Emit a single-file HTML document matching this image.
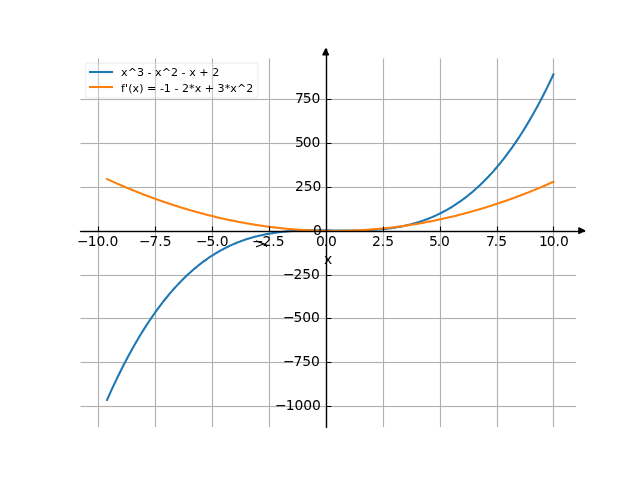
<!DOCTYPE html>
<html><head><meta charset="utf-8"><title>plot</title>
<style>html,body{margin:0;padding:0;background:#fff;overflow:hidden}svg{display:block}text{font-family:'DejaVu Sans',sans-serif;fill:#000}</style>
</head><body>
<svg width="640" height="480" viewBox="0 0 640 480" version="1.1">
<defs><clipPath id="ax"><rect x="80" y="57.6" width="496" height="369.6"/></clipPath></defs>
<rect width="640" height="480" fill="#fff"/>
<path d="M97 58.5H98V427H97ZM99 58.5H100V427H99ZM154 58.5H155V427H154ZM156 58.5H157V427H156ZM211 58.5H212V427H211ZM213 58.5H214V427H213ZM268 58.5H269V427H268ZM270 58.5H271V427H270ZM325 58.5H326V427H325ZM327 58.5H328V427H327ZM382 58.5H383V427H382ZM384 58.5H385V427H384ZM439 58.5H440V427H439ZM441 58.5H442V427H441ZM496 58.5H497V427H496ZM498 58.5H499V427H498ZM552 58.5H553V427H552ZM554 58.5H555V427H554ZM80.5 98H576V99H80.5ZM80.5 100H576V101H80.5ZM80.5 142H576V143H80.5ZM80.5 144H576V145H80.5ZM80.5 186H576V187H80.5ZM80.5 188H576V189H80.5ZM80.5 230H576V231H80.5ZM80.5 232H576V233H80.5ZM80.5 274H576V275H80.5ZM80.5 276H576V277H80.5ZM80.5 317H576V318H80.5ZM80.5 319H576V320H80.5ZM80.5 361H576V362H80.5ZM80.5 363H576V364H80.5ZM80.5 405H576V406H80.5ZM80.5 407H576V408H80.5Z" fill="#b0b0b0" fill-opacity="0.063"/>
<path d="M98 58.5H99V427H98ZM155 58.5H156V427H155ZM212 58.5H213V427H212ZM269 58.5H270V427H269ZM326 58.5H327V427H326ZM383 58.5H384V427H383ZM440 58.5H441V427H440ZM497 58.5H498V427H497ZM553 58.5H554V427H553ZM80.5 99H576V100H80.5ZM80.5 143H576V144H80.5ZM80.5 187H576V188H80.5ZM80.5 231H576V232H80.5ZM80.5 275H576V276H80.5ZM80.5 318H576V319H80.5ZM80.5 362H576V363H80.5ZM80.5 406H576V407H80.5Z" fill="#b0b0b0"/>
<g clip-path="url(#ax)" fill="none" stroke-width="2.0833" stroke-linecap="square" stroke-linejoin="round">
<polyline points="107.09,399.86 108.20,397.34 109.32,394.84 110.44,392.37 111.56,389.92 112.68,387.49 113.80,385.09 114.92,382.72 116.03,380.37 117.15,378.04 118.27,375.74 119.39,373.46 120.51,371.20 121.63,368.97 122.75,366.76 123.87,364.58 124.98,362.42 126.10,360.28 127.22,358.17 128.34,356.07 129.46,354.01 130.58,351.96 131.70,349.94 132.81,347.93 133.93,345.96 135.05,344.00 136.17,342.07 137.29,340.15 138.41,338.26 139.53,336.39 140.65,334.55 141.76,332.72 142.88,330.92 144.00,329.13 145.12,327.37 146.24,325.63 147.36,323.91 148.48,322.21 149.60,320.53 150.71,318.87 151.83,317.23 152.95,315.61 154.07,314.02 155.19,312.44 156.31,310.88 157.43,309.34 158.54,307.82 159.66,306.32 160.78,304.84 161.90,303.38 163.02,301.94 164.14,300.52 165.26,299.11 166.38,297.73 167.49,296.36 168.61,295.01 169.73,293.68 170.85,292.37 171.97,291.08 173.09,289.80 174.21,288.54 175.32,287.30 176.44,286.08 177.56,284.88 178.68,283.69 179.80,282.52 180.92,281.37 182.04,280.23 183.16,279.11 184.27,278.01 185.39,276.92 186.51,275.85 187.63,274.80 188.75,273.76 189.87,272.74 190.99,271.74 192.10,270.75 193.22,269.77 194.34,268.82 195.46,267.87 196.58,266.95 197.70,266.04 198.82,265.14 199.94,264.26 201.05,263.39 202.17,262.54 203.29,261.70 204.41,260.88 205.53,260.07 206.65,259.28 207.77,258.50 208.89,257.73 210.00,256.98 211.12,256.24 212.24,255.51 213.36,254.80 214.48,254.10 215.60,253.42 216.72,252.75 217.83,252.09 218.95,251.44 220.07,250.81 221.19,250.19 222.31,249.58 223.43,248.98 224.55,248.40 225.67,247.83 226.78,247.27 227.90,246.72 229.02,246.19 230.14,245.66 231.26,245.15 232.38,244.65 233.50,244.16 234.61,243.68 235.73,243.21 236.85,242.75 237.97,242.31 239.09,241.87 240.21,241.45 241.33,241.03 242.45,240.63 243.56,240.23 244.68,239.85 245.80,239.47 246.92,239.11 248.04,238.75 249.16,238.41 250.28,238.07 251.40,237.74 252.51,237.43 253.63,237.12 254.75,236.82 255.87,236.53 256.99,236.24 258.11,235.97 259.23,235.70 260.34,235.45 261.46,235.20 262.58,234.95 263.70,234.72 264.82,234.49 265.94,234.28 267.06,234.07 268.18,233.86 269.29,233.67 270.41,233.48 271.53,233.30 272.65,233.12 273.77,232.95 274.89,232.79 276.01,232.64 277.12,232.49 278.24,232.34 279.36,232.21 280.48,232.08 281.60,231.95 282.72,231.83 283.84,231.72 284.96,231.61 286.07,231.51 287.19,231.41 288.31,231.32 289.43,231.24 290.55,231.15 291.67,231.08 292.79,231.00 293.91,230.94 295.02,230.87 296.14,230.81 297.26,230.76 298.38,230.71 299.50,230.66 300.62,230.62 301.74,230.58 302.85,230.54 303.97,230.51 305.09,230.48 306.21,230.45 307.33,230.43 308.45,230.41 309.57,230.39 310.69,230.37 311.80,230.36 312.92,230.35 314.04,230.34 315.16,230.34 316.28,230.33 317.40,230.33 318.52,230.33 319.63,230.33 320.75,230.33 321.87,230.34 322.99,230.34 324.11,230.35 325.23,230.36 326.35,230.37 327.47,230.38 328.58,230.39 329.70,230.40 330.82,230.41 331.94,230.42 333.06,230.43 334.18,230.44 335.30,230.45 336.42,230.46 337.53,230.48 338.65,230.49 339.77,230.50 340.89,230.50 342.01,230.51 343.13,230.52 344.25,230.53 345.36,230.53 346.48,230.53 347.60,230.54 348.72,230.54 349.84,230.54 350.96,230.53 352.08,230.53 353.20,230.52 354.31,230.51 355.43,230.50 356.55,230.48 357.67,230.47 358.79,230.45 359.91,230.43 361.03,230.40 362.14,230.37 363.26,230.34 364.38,230.31 365.50,230.27 366.62,230.23 367.74,230.18 368.86,230.13 369.98,230.08 371.09,230.02 372.21,229.96 373.33,229.89 374.45,229.82 375.57,229.75 376.69,229.67 377.81,229.58 378.92,229.49 380.04,229.40 381.16,229.30 382.28,229.19 383.40,229.08 384.52,228.96 385.64,228.84 386.76,228.71 387.87,228.58 388.99,228.44 390.11,228.30 391.23,228.14 392.35,227.98 393.47,227.82 394.59,227.65 395.71,227.47 396.82,227.28 397.94,227.09 399.06,226.89 400.18,226.68 401.30,226.47 402.42,226.24 403.54,226.01 404.65,225.77 405.77,225.53 406.89,225.27 408.01,225.01 409.13,224.74 410.25,224.46 411.37,224.17 412.49,223.88 413.60,223.57 414.72,223.26 415.84,222.94 416.96,222.60 418.08,222.26 419.20,221.91 420.32,221.55 421.43,221.18 422.55,220.80 423.67,220.41 424.79,220.01 425.91,219.60 427.03,219.18 428.15,218.75 429.27,218.30 430.38,217.85 431.50,217.39 432.62,216.91 433.74,216.43 434.86,215.93 435.98,215.42 437.10,214.91 438.22,214.37 439.33,213.83 440.45,213.28 441.57,212.71 442.69,212.13 443.81,211.54 444.93,210.94 446.05,210.32 447.16,209.70 448.28,209.06 449.40,208.40 450.52,207.74 451.64,207.06 452.76,206.37 453.88,205.66 455.00,204.94 456.11,204.21 457.23,203.46 458.35,202.70 459.47,201.93 460.59,201.14 461.71,200.34 462.83,199.52 463.94,198.69 465.06,197.84 466.18,196.98 467.30,196.11 468.42,195.22 469.54,194.31 470.66,193.39 471.78,192.46 472.89,191.50 474.01,190.54 475.13,189.56 476.25,188.56 477.37,187.54 478.49,186.51 479.61,185.47 480.73,184.40 481.84,183.33 482.96,182.23 484.08,181.12 485.20,179.99 486.32,178.84 487.44,177.68 488.56,176.50 489.67,175.30 490.79,174.09 491.91,172.85 493.03,171.60 494.15,170.34 495.27,169.05 496.39,167.75 497.51,166.43 498.62,165.08 499.74,163.73 500.86,162.35 501.98,160.95 503.10,159.54 504.22,158.10 505.34,156.65 506.45,155.18 507.57,153.69 508.69,152.18 509.81,150.65 510.93,149.10 512.05,147.53 513.17,145.94 514.29,144.33 515.40,142.70 516.52,141.05 517.64,139.38 518.76,137.69 519.88,135.98 521.00,134.25 522.12,132.49 523.24,130.72 524.35,128.92 525.47,127.11 526.59,125.27 527.71,123.41 528.83,121.53 529.95,119.62 531.07,117.70 532.18,115.75 533.30,113.78 534.42,111.79 535.54,109.78 536.66,107.74 537.78,105.68 538.90,103.60 540.02,101.49 541.13,99.37 542.25,97.22 543.37,95.04 544.49,92.84 545.61,90.62 546.73,88.38 547.85,86.11 548.96,83.82 550.08,81.50 551.20,79.16 552.32,76.79 553.44,74.40" stroke="#1f77b4"/>
<polyline points="107.09,179.07 108.20,179.59 109.32,180.10 110.44,180.60 111.56,181.11 112.68,181.61 113.80,182.11 114.92,182.60 116.03,183.10 117.15,183.59 118.27,184.08 119.39,184.56 120.51,185.05 121.63,185.53 122.75,186.01 123.87,186.48 124.98,186.96 126.10,187.43 127.22,187.90 128.34,188.36 129.46,188.83 130.58,189.29 131.70,189.75 132.81,190.20 133.93,190.66 135.05,191.11 136.17,191.56 137.29,192.00 138.41,192.44 139.53,192.89 140.65,193.32 141.76,193.76 142.88,194.19 144.00,194.62 145.12,195.05 146.24,195.48 147.36,195.90 148.48,196.32 149.60,196.74 150.71,197.15 151.83,197.57 152.95,197.98 154.07,198.38 155.19,198.79 156.31,199.19 157.43,199.59 158.54,199.99 159.66,200.38 160.78,200.78 161.90,201.17 163.02,201.55 164.14,201.94 165.26,202.32 166.38,202.70 167.49,203.08 168.61,203.45 169.73,203.83 170.85,204.20 171.97,204.56 173.09,204.93 174.21,205.29 175.32,205.65 176.44,206.01 177.56,206.36 178.68,206.71 179.80,207.06 180.92,207.41 182.04,207.75 183.16,208.09 184.27,208.43 185.39,208.77 186.51,209.11 187.63,209.44 188.75,209.77 189.87,210.09 190.99,210.42 192.10,210.74 193.22,211.06 194.34,211.37 195.46,211.69 196.58,212.00 197.70,212.31 198.82,212.61 199.94,212.92 201.05,213.22 202.17,213.52 203.29,213.81 204.41,214.11 205.53,214.40 206.65,214.69 207.77,214.97 208.89,215.26 210.00,215.54 211.12,215.81 212.24,216.09 213.36,216.36 214.48,216.63 215.60,216.90 216.72,217.17 217.83,217.43 218.95,217.69 220.07,217.95 221.19,218.21 222.31,218.46 223.43,218.71 224.55,218.96 225.67,219.20 226.78,219.45 227.90,219.69 229.02,219.92 230.14,220.16 231.26,220.39 232.38,220.62 233.50,220.85 234.61,221.07 235.73,221.30 236.85,221.52 237.97,221.73 239.09,221.95 240.21,222.16 241.33,222.37 242.45,222.58 243.56,222.78 244.68,222.99 245.80,223.19 246.92,223.38 248.04,223.58 249.16,223.77 250.28,223.96 251.40,224.15 252.51,224.33 253.63,224.51 254.75,224.69 255.87,224.87 256.99,225.04 258.11,225.21 259.23,225.38 260.34,225.55 261.46,225.71 262.58,225.88 263.70,226.04 264.82,226.19 265.94,226.35 267.06,226.50 268.18,226.65 269.29,226.79 270.41,226.94 271.53,227.08 272.65,227.22 273.77,227.35 274.89,227.49 276.01,227.62 277.12,227.75 278.24,227.87 279.36,228.00 280.48,228.12 281.60,228.24 282.72,228.35 283.84,228.47 284.96,228.58 286.07,228.69 287.19,228.79 288.31,228.89 289.43,228.99 290.55,229.09 291.67,229.19 292.79,229.28 293.91,229.37 295.02,229.46 296.14,229.55 297.26,229.63 298.38,229.71 299.50,229.79 300.62,229.86 301.74,229.94 302.85,230.01 303.97,230.07 305.09,230.14 306.21,230.20 307.33,230.26 308.45,230.32 309.57,230.37 310.69,230.43 311.80,230.48 312.92,230.52 314.04,230.57 315.16,230.61 316.28,230.65 317.40,230.69 318.52,230.72 319.63,230.76 320.75,230.79 321.87,230.81 322.99,230.84 324.11,230.86 325.23,230.88 326.35,230.90 327.47,230.91 328.58,230.92 329.70,230.93 330.82,230.94 331.94,230.94 333.06,230.95 334.18,230.94 335.30,230.94 336.42,230.94 337.53,230.93 338.65,230.92 339.77,230.90 340.89,230.89 342.01,230.87 343.13,230.85 344.25,230.82 345.36,230.80 346.48,230.77 347.60,230.74 348.72,230.70 349.84,230.67 350.96,230.63 352.08,230.59 353.20,230.54 354.31,230.50 355.43,230.45 356.55,230.40 357.67,230.34 358.79,230.29 359.91,230.23 361.03,230.17 362.14,230.10 363.26,230.04 364.38,229.97 365.50,229.89 366.62,229.82 367.74,229.74 368.86,229.66 369.98,229.58 371.09,229.50 372.21,229.41 373.33,229.32 374.45,229.23 375.57,229.13 376.69,229.04 377.81,228.94 378.92,228.84 380.04,228.73 381.16,228.62 382.28,228.51 383.40,228.40 384.52,228.29 385.64,228.17 386.76,228.05 387.87,227.93 388.99,227.80 390.11,227.67 391.23,227.54 392.35,227.41 393.47,227.28 394.59,227.14 395.71,227.00 396.82,226.86 397.94,226.71 399.06,226.56 400.18,226.41 401.30,226.26 402.42,226.10 403.54,225.95 404.65,225.78 405.77,225.62 406.89,225.46 408.01,225.29 409.13,225.12 410.25,224.94 411.37,224.77 412.49,224.59 413.60,224.41 414.72,224.23 415.84,224.04 416.96,223.85 418.08,223.66 419.20,223.47 420.32,223.27 421.43,223.07 422.55,222.87 423.67,222.67 424.79,222.46 425.91,222.25 427.03,222.04 428.15,221.83 429.27,221.61 430.38,221.39 431.50,221.17 432.62,220.95 433.74,220.72 434.86,220.49 435.98,220.26 437.10,220.02 438.22,219.79 439.33,219.55 440.45,219.31 441.57,219.06 442.69,218.82 443.81,218.57 444.93,218.31 446.05,218.06 447.16,217.80 448.28,217.54 449.40,217.28 450.52,217.02 451.64,216.75 452.76,216.48 453.88,216.21 455.00,215.93 456.11,215.66 457.23,215.38 458.35,215.09 459.47,214.81 460.59,214.52 461.71,214.23 462.83,213.94 463.94,213.64 465.06,213.35 466.18,213.05 467.30,212.74 468.42,212.44 469.54,212.13 470.66,211.82 471.78,211.51 472.89,211.19 474.01,210.87 475.13,210.55 476.25,210.23 477.37,209.91 478.49,209.58 479.61,209.25 480.73,208.91 481.84,208.58 482.96,208.24 484.08,207.90 485.20,207.56 486.32,207.21 487.44,206.86 488.56,206.51 489.67,206.16 490.79,205.80 491.91,205.44 493.03,205.08 494.15,204.72 495.27,204.35 496.39,203.98 497.51,203.61 498.62,203.24 499.74,202.86 500.86,202.49 501.98,202.10 503.10,201.72 504.22,201.33 505.34,200.94 506.45,200.55 507.57,200.16 508.69,199.76 509.81,199.36 510.93,198.96 512.05,198.56 513.17,198.15 514.29,197.74 515.40,197.33 516.52,196.92 517.64,196.50 518.76,196.08 519.88,195.66 521.00,195.23 522.12,194.81 523.24,194.38 524.35,193.95 525.47,193.51 526.59,193.07 527.71,192.63 528.83,192.19 529.95,191.75 531.07,191.30 532.18,190.85 533.30,190.40 534.42,189.94 535.54,189.49 536.66,189.03 537.78,188.56 538.90,188.10 540.02,187.63 541.13,187.16 542.25,186.69 543.37,186.21 544.49,185.74 545.61,185.25 546.73,184.77 547.85,184.29 548.96,183.80 550.08,183.31 551.20,182.82 552.32,182.32 553.44,181.82" stroke="#ff7f0e"/>
</g>
<path d="M98.5 231.5V226.5M155.5 231.5V226.5M212.5 231.5V226.5M269.5 231.5V226.5M383.5 231.5V226.5M440.5 231.5V226.5M497.5 231.5V226.5M553.5 231.5V226.5M326.5 99.5H331.5M326.5 143.5H331.5M326.5 187.5H331.5M326.5 275.5H331.5M326.5 318.5H331.5M326.5 362.5H331.5M326.5 406.5H331.5" fill="none" stroke="#000" stroke-width="1.1111"/>
<path d="M326.5 427.5V49.15" fill="none" stroke="#000" stroke-width="1.3889" stroke-linecap="round"/>
<path d="M79.92 231H585.08V232H79.92Z" fill="#000"/>
<path d="M80.5 230H584.5V231H80.5ZM80.5 232H584.5V233H80.5Z" fill="#000" fill-opacity="0.196"/>
<path d="M578.891 227.934L584.447 230.712L578.891 233.490ZM322.930 54.709L325.708 49.153L328.485 54.709Z" fill="#000" stroke="#000" stroke-width="1.3889" stroke-linejoin="round" stroke-linecap="round"/>
<path d="M87.7778 97.6000L255.7084 97.6000Q257.9306 97.6000 257.9306 95.3778L257.9306 65.3778Q257.9306 63.1556 255.7084 63.1556L87.7778 63.1556Q85.5556 63.1556 85.5556 65.3778L85.5556 95.3778Q85.5556 97.6000 87.7778 97.6000Z" fill="#fff" stroke="#ccc" stroke-width="1.3889" stroke-linejoin="miter" fill-opacity="0.3" stroke-opacity="0.3"/>
<path d="M88.96 72H113.04" stroke="#1f77b4" stroke-width="2.0833"/>
<path d="M88.96 87H113.04" stroke="#ff7f0e" stroke-width="2.0833"/>
<text x="76.880 87.705 96.380 105.130 109.505" y="246.000" font-size="13.8889">−10.0</text>
<text x="138.971 149.596 158.346 162.721" y="246.000" font-size="13.8889">−7.5</text>
<text x="195.923 206.548 215.298 219.673" y="246.000" font-size="13.8889">−5.0</text>
<text x="251.886 262.411 271.161 275.636" y="246.000" font-size="13.8889">−2.5</text>
<text x="315.892 323.642 327.917" y="246.000" font-size="13.8889">0.0</text>
<text x="372.025 380.775 385.150" y="246.000" font-size="13.8889">2.5</text>
<text x="428.928 436.678 441.053" y="246.000" font-size="13.8889">5.0</text>
<text x="485.881 493.631 498.306" y="246.000" font-size="13.8889">7.5</text>
<text x="538.876 546.751 555.501 559.876" y="246.000" font-size="13.8889">10.0</text>
<text x="328.080" y="264.000" font-size="13.8889" text-anchor="middle">x</text>
<text x="274.945 285.670 294.545 303.295 312.045" y="410.000" font-size="13.8889">−1000</text>
<text x="282.920 293.545 302.295 311.045" y="366.000" font-size="13.8889">−750</text>
<text x="282.900 293.525 302.275 311.025" y="322.000" font-size="13.8889">−500</text>
<text x="282.920 293.545 302.295 311.045" y="279.000" font-size="13.8889">−250</text>
<text x="321.712" y="235.000" font-size="13.8889" text-anchor="end">0</text>
<text x="294.875 303.625 312.375" y="191.000" font-size="13.8889">250</text>
<text x="294.935 302.685 311.435" y="147.000" font-size="13.8889">500</text>
<text x="294.965 302.715 311.465" y="103.000" font-size="13.8889">750</text>
<text x="263.543" y="243.900" font-size="13.8889" text-anchor="middle" transform="rotate(-90 263.543 243.900)">y</text>
<text x="121.001 127.626 137.001 144.001 147.501 151.501 155.001 161.626 171.001 178.126 181.426 185.626 189.126 195.751 199.251 208.626 212.126" y="76.000" font-size="11.1111">x^3 - x^2 - x + 2</text>
<text x="121.031 125.031 128.156 132.531 139.156 143.531 147.031 156.406 159.906 163.706 170.906 174.406 178.406 181.906 189.031 194.656 201.281 204.781 214.156 217.456 224.656 230.281 236.906 246.281" y="92.000" font-size="11.1111">f'(x) = -1 - 2*x + 3*x^2</text>
</svg>
</body></html>
